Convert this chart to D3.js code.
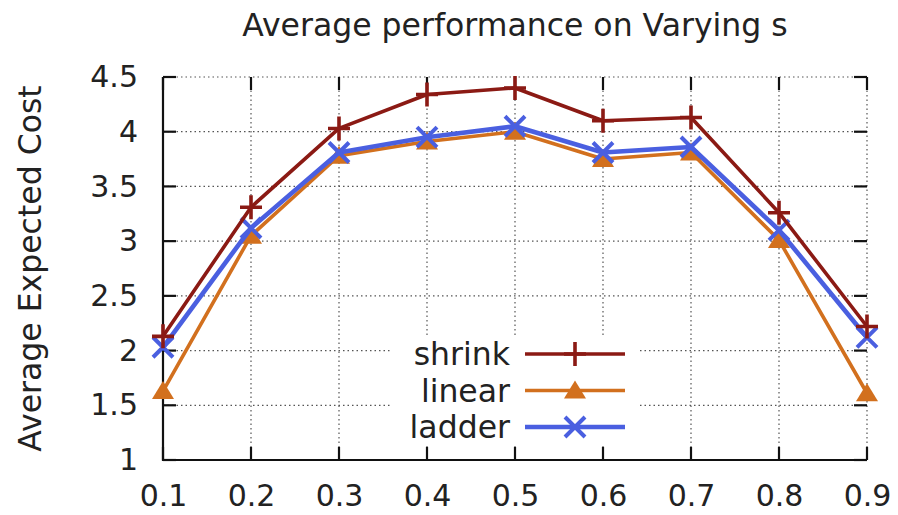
<!DOCTYPE html>
<html><head><meta charset="utf-8">
<script src="https://cdn.jsdelivr.net/npm/d3@7"></script>
<style>body{margin:0;background:#fff}svg{display:block}text{font-family:"DejaVu Sans",sans-serif;fill:#222}</style>
</head><body><svg id="c" width="898" height="515"></svg>
<script>
const sValues = [0.1,0.2,0.3,0.4,0.5,0.6,0.7,0.8,0.9];
const shrink = [2.13,3.31,4.03,4.34,4.40,4.10,4.13,3.26,2.22];
const linear = [1.63,3.05,3.78,3.91,4.00,3.75,3.81,3.01,1.61];
const ladder = [2.03,3.12,3.81,3.95,4.05,3.81,3.86,3.10,2.12];
const seriesNames = ["shrink","linear","ladder"];
const yTicks = [1,1.5,2,2.5,3,3.5,4,4.5];
const title = "Average performance on Varying s";
const yLabel = "Average Expected Cost";

const svg = d3.select("#c");
const L=163,R=867,T=77,B=460;
const FS = "30px", FL = "31.5px";
const x = d3.scaleLinear().domain([0.1,0.9]).range([L,R]);
const y = d3.scaleLinear().domain([1,4.5]).range([B,T]);
const colors = {shrink:"#8b1a14",linear:"#d2701e",ladder:"#4a5fe0"};
const widths = {shrink:3.6,linear:3.6,ladder:4.6};
const data = {shrink,linear,ladder};

// grid
const g = svg.append("g");
g.selectAll(".hg").data(yTicks.slice(1)).join("line")
 .attr("x1",L).attr("x2",R).attr("y1",d=>y(d)).attr("y2",d=>y(d))
 .attr("stroke","#555").attr("stroke-width",1.2).attr("stroke-dasharray","1.5,3");
g.selectAll(".vg").data(sValues.slice(1)).join("line")
 .attr("x1",d=>x(d)).attr("x2",d=>x(d)).attr("y1",T).attr("y2",B)
 .attr("stroke","#555").attr("stroke-width",1.2).attr("stroke-dasharray","1.5,3");

// axes
const ax = d3.axisBottom(x).tickValues(sValues).tickFormat(d3.format(".1f")).tickSize(0).tickPadding(0);
const xa = svg.append("g").attr("transform",`translate(0,${B})`).call(ax);
const ay = d3.axisLeft(y).tickValues(yTicks).tickFormat(d=>String(d)).tickSize(0).tickPadding(25);
const ya = svg.append("g").attr("transform",`translate(${L},0)`).call(ay);
[xa,ya].forEach(a=>{a.select(".domain").remove();a.selectAll("text").style("font-size",FS).style("font-family","DejaVu Sans, sans-serif").attr("fill","#222");});
xa.selectAll("text").attr("y",35).attr("dy","0.35em");
// tick marks (inward + mirrored)
const tk = svg.append("g").attr("stroke","#111").attr("stroke-width",2.2);
yTicks.forEach(v=>{
  tk.append("line").attr("x1",L).attr("x2",L+13).attr("y1",y(v)).attr("y2",y(v));
  tk.append("line").attr("x1",R-13).attr("x2",R).attr("y1",y(v)).attr("y2",y(v));
});
sValues.forEach(v=>{
  tk.append("line").attr("x1",x(v)).attr("x2",x(v)).attr("y1",B).attr("y2",B-13);
  tk.append("line").attr("x1",x(v)).attr("x2",x(v)).attr("y1",T).attr("y2",T+13);
});
svg.append("path").attr("d",`M${L},${T}V${B}H${R}`).attr("fill","none").attr("stroke","#111").attr("stroke-width",2.2);

// markers
function marker(sel,name,cx,cy){
  const c=colors[name];
  if(name==="shrink"){
    sel.append("path").attr("d",`M${cx-11},${cy}H${cx+11}M${cx},${cy-12}V${cy+12}`).attr("stroke",c).attr("stroke-width",3.6);
  } else if(name==="linear"){
    sel.append("path").attr("d",`M${cx},${cy-10}L${cx+11},${cy+8}L${cx-11},${cy+8}Z`).attr("fill",c);
  } else {
    sel.append("path").attr("d",`M${cx-10},${cy-10}L${cx+10},${cy+10}M${cx+10},${cy-10}L${cx-10},${cy+10}`).attr("stroke",c).attr("stroke-width",4);
  }
}
const line = d3.line().x((d,i)=>x(sValues[i])).y(d=>y(d));
["linear","ladder","shrink"].forEach(n=>{
  const s=svg.append("g");
  s.append("path").datum(data[n]).attr("d",line).attr("fill","none").attr("stroke",colors[n]).attr("stroke-width",widths[n]).attr("stroke-linejoin","round");
  data[n].forEach((v,i)=>marker(s,n,x(sValues[i]),y(v)));
});

// legend
const lg = svg.append("g");
lg.append("rect").attr("x",392).attr("y",337).attr("width",248).attr("height",108).attr("fill","#fff");
seriesNames.forEach((n,i)=>{
  const yy=354+i*36.5;
  lg.append("text").attr("x",510).attr("y",yy).attr("dy","0.35em").attr("text-anchor","end").style("font-size",FL).text(n);
  lg.append("line").attr("x1",525).attr("x2",625).attr("y1",yy).attr("y2",yy).attr("stroke",colors[n]).attr("stroke-width",widths[n]);
  marker(lg,n,575,yy);
});

svg.append("text").attr("x",515).attr("y",25).attr("dy","0.35em").attr("text-anchor","middle").style("font-size",FL).text(title);
svg.append("text").attr("transform",`translate(30,${(T+B)/2}) rotate(-90)`).attr("dy","0.35em").attr("text-anchor","middle").style("font-size",FL).text(yLabel);
</script></body></html>
